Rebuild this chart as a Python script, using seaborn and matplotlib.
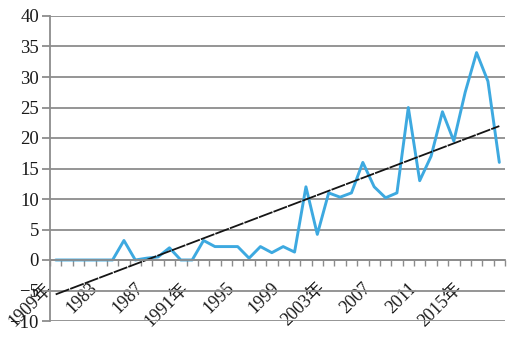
import numpy as np
import pandas as pd
import matplotlib
matplotlib.use("Agg")
import matplotlib.pyplot as plt
import seaborn as sns

# yearly counts, 1979-2018
years = list(range(1979, 2019))
counts = [0, 0, 0, 0, 0, 0, 3.2, 0, 0.3, 0.5,
          2, 0, 0, 3.2, 2.2, 2.2, 2.2, 0.3, 2.2, 1.2,
          2.2, 1.3, 12, 4.2, 11, 10.3, 11, 16, 12, 10.2,
          11, 25, 13, 17, 24.3, 19.5, 27.5, 34, 29.3, 16]
tick_labels = ["1909年", "1983", "1987", "1991年", "1995",
               "1999", "2003年", "2007", "2011", "2015年"]
tick_step = 4

df = pd.DataFrame({"idx": np.arange(len(years)), "year": years, "count": counts})

sns.set_theme(style="white")
plt.rcParams["font.family"] = ["Liberation Serif", "Noto Sans CJK SC"]

grid_col = "#8c8c8c"
text_col = "#1a1a1a"

fig = plt.figure(figsize=(5.12, 3.48), dpi=100)
ax = fig.add_axes([50 / 512, 1 - 321 / 348, 455 / 512, 305 / 348])

sns.lineplot(data=df, x="idx", y="count", ax=ax, color="#3DA9E0", linewidth=2.1)
# linear trend line
sns.regplot(data=df, x="idx", y="count", ax=ax, scatter=False, ci=None,
            line_kws=dict(color="#151515", linewidth=1.3, linestyle=(0, (8, 0.6))))

ax.set_xlim(-0.5, len(years) - 0.5)
ax.set_ylim(-10, 40)
ax.set_yticks(range(-10, 41, 5))
ax.yaxis.grid(True, color=grid_col, linewidth=1.3)
ax.set_axisbelow(True)

for s in ["top", "right"]:
    ax.spines[s].set_visible(False)
ax.spines["bottom"].set_position(("data", 0))
ax.spines["left"].set_color(grid_col)
ax.spines["bottom"].set_color(grid_col)
ax.spines["left"].set_linewidth(1.3)
ax.spines["bottom"].set_linewidth(1.3)

ax.set_xticks(np.arange(0, len(years), tick_step))
ax.set_xticklabels(tick_labels, rotation=45, ha="right")
ax.set_xticks(np.arange(-0.5, len(years)), minor=True)
ax.tick_params(axis="x", which="major", length=0, pad=14, labelsize=13, labelcolor=text_col)
ax.tick_params(axis="x", which="minor", length=4, width=1, color=grid_col, direction="out", bottom=True)
ax.tick_params(axis="y", length=6, width=1.3, color=grid_col, direction="out", left=True,
               labelsize=13.5, pad=2, labelcolor=text_col)
ax.set_xlabel("")
ax.set_ylabel("")

fig.savefig("out.png", dpi=100)
